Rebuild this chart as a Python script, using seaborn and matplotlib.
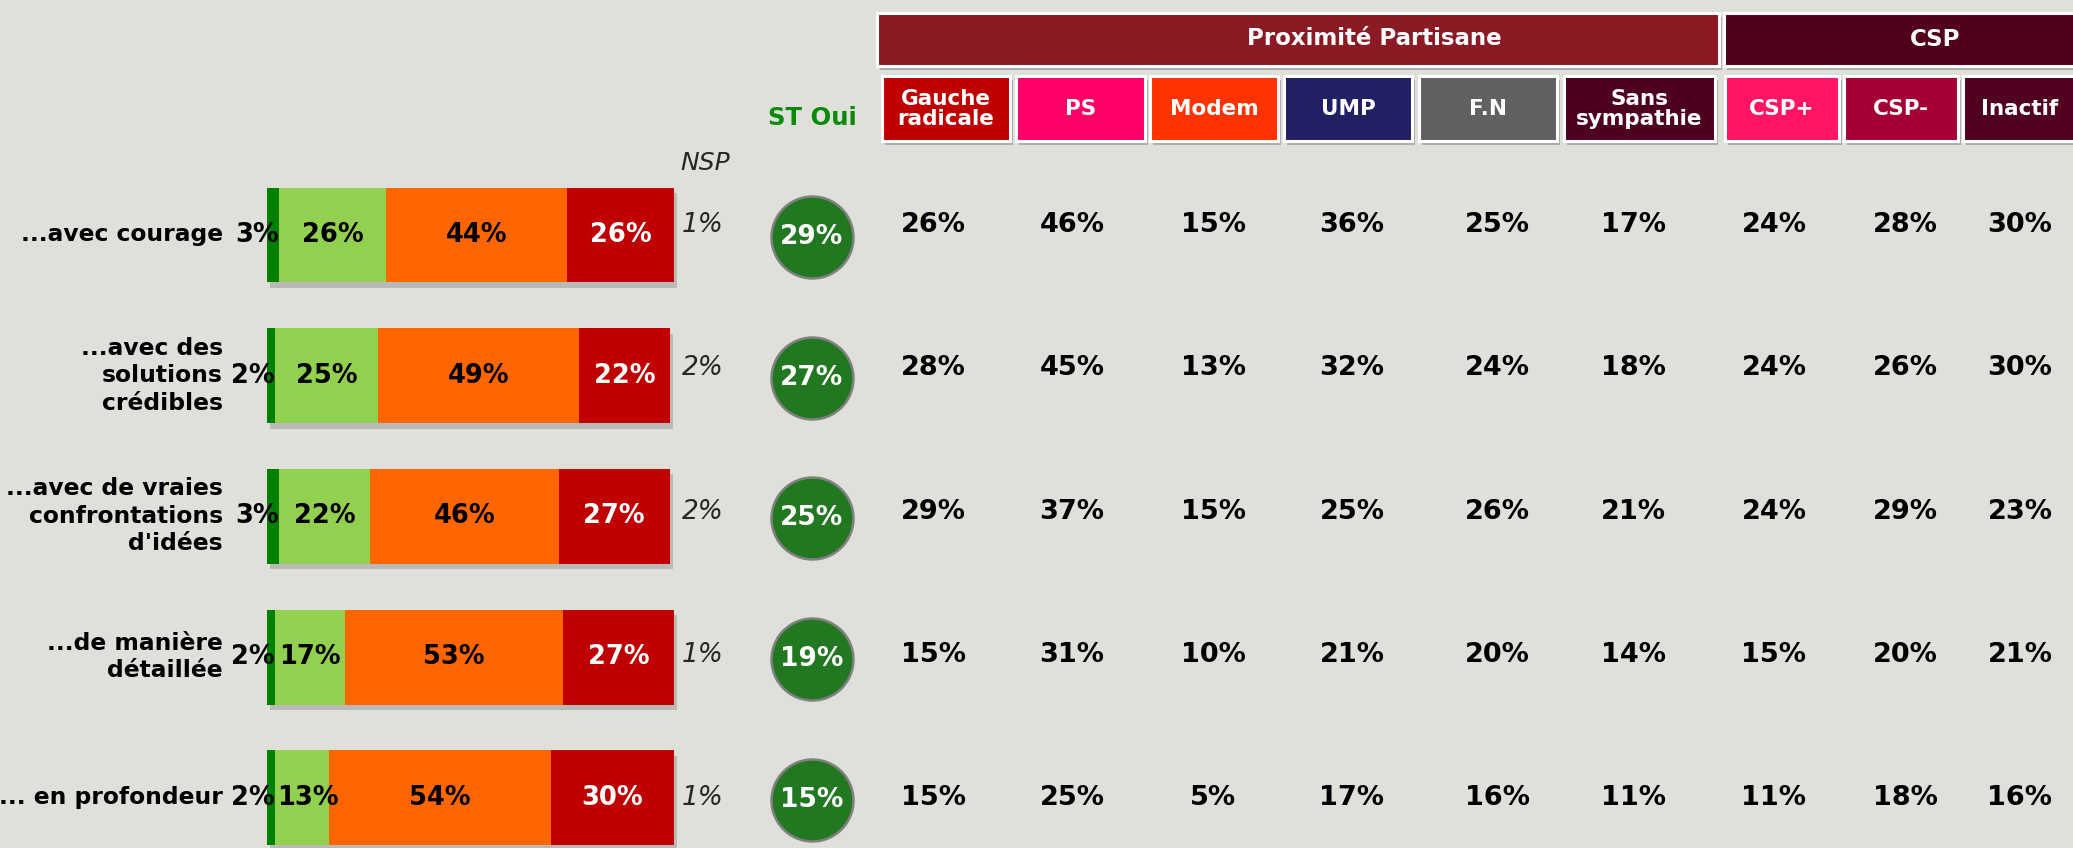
import numpy as np
import pandas as pd
import matplotlib
matplotlib.use("Agg")
import matplotlib.pyplot as plt
import matplotlib.patches as mpatches
import matplotlib.patheffects as pe
import seaborn as sns

# Data
categories = ["...avec courage",
              "...avec des\nsolutions\ncrédibles",
              "...avec de vraies\nconfrontations\nd'idées",
              "...de manière\ndétaillée",
              "... en profondeur"]
tres_bien = [3, 2, 3, 2, 2]
plutot_bien = [26, 25, 22, 17, 13]
plutot_mal = [44, 49, 46, 53, 54]
tres_mal = [26, 22, 27, 27, 30]
nsp = [1, 2, 2, 1, 1]
st_oui = [29, 27, 25, 19, 15]

col_labels = ["Gauche\nradicale", "PS", "Modem", "UMP", "F.N",
              "Sans\nsympathie", "CSP+", "CSP-", "Inactif"]
gauche_radicale = [26, 28, 29, 15, 15]
ps = [46, 45, 37, 31, 25]
modem = [15, 13, 15, 10, 5]
ump = [36, 32, 25, 21, 17]
fn = [25, 24, 26, 20, 16]
sans_sympathie = [17, 18, 21, 14, 11]
csp_plus = [24, 24, 24, 15, 11]
csp_moins = [28, 26, 29, 20, 18]
inactif = [30, 30, 23, 21, 16]
group_labels = ["Proximité Partisane", "CSP"]

# Style
BG = "#DFE0DA"
SEG_COLORS = ["#008000", "#92D050", "#FF6600", "#C00000"]
SEG_TEXT = ["black", "black", "black", "white"]
COL_COLORS = ["#C00000", "#FF0066", "#FF3300", "#222064", "#616161",
              "#4F0020", "#FF1466", "#A50036", "#520020"]
GROUP_COLORS = ["#8B1A25", "#520019"]

# Layout (pixels of the 2073x848 canvas)
W, H = 2073, 848
BAR_X0, PX_PCT = 267, 4.11
ROW0, ROW_STEP = 235, 140.7
VAL_ROW0, VAL_STEP = 225, 143.3
COL_X = [933, 1072, 1213, 1352, 1497, 1633, 1774, 1905, 2020]
COL_BOX = [(882, 1010), (1016, 1145), (1150, 1278), (1284, 1412), (1419, 1557),
           (1564, 1715), (1725, 1839), (1844, 1958), (1963, 2085)]
GROUP_BOX = [(877, 1719), (1724, 2085)]
NSP_X, ST_X = 703, 812


def ux(px):
    return (px - BAR_X0) / PX_PCT


def uy(py):
    return (py - ROW0) / ROW_STEP


def box(ax, x0, x1, y0, y1, color):
    rect = mpatches.Rectangle((ux(x0), uy(y0)), (x1 - x0) / PX_PCT, (y1 - y0) / ROW_STEP,
                              facecolor=color, edgecolor="white", linewidth=2.2)
    rect.set_path_effects([pe.SimplePatchShadow(offset=(2, -3), shadow_rgbFace="#8a8a8a", alpha=0.6),
                           pe.Normal()])
    ax.add_patch(rect)


sns.set_style("white")
plt.rcParams["font.family"] = ["DejaVu Sans"]

fig = plt.figure(figsize=(W / 100, H / 100), dpi=100)
fig.patch.set_facecolor(BG)
ax = fig.add_axes([0, 0, 1, 1])
ax.set_facecolor(BG)

segments = [tres_bien, plutot_bien, plutot_mal, tres_mal]
cum = np.cumsum(segments, axis=0)
rows = np.arange(len(categories))

# stacked bars: draw cumulative totals from the largest down
for k in reversed(range(len(segments))):
    n0 = len(ax.patches)
    df = pd.DataFrame({"cat": categories, "val": cum[k]})
    sns.barplot(data=df, x="val", y="cat", orient="h", color=SEG_COLORS[k],
                saturation=1, width=0.675, errorbar=None, linewidth=0, ax=ax)
    if k == len(segments) - 1:
        for p in ax.patches[n0:]:
            p.set_path_effects([pe.SimplePatchShadow(offset=(2, -4), shadow_rgbFace="#808080", alpha=0.4),
                                pe.Normal()])

# segment labels
for i in rows:
    ax.text(tres_bien[i] - 0.2, i, f"{tres_bien[i]}%", ha="right", va="center",
            fontsize=18.5, fontweight="bold", color=SEG_TEXT[0])
    for k in range(1, len(segments)):
        mid = cum[k][i] - segments[k][i] / 2
        if k == 1:
            mid = max(mid, tres_bien[i] + 8.0)
        ax.text(mid, i, f"{segments[k][i]}%", ha="center", va="center",
                fontsize=18.5, fontweight="bold", color=SEG_TEXT[k])
    ax.text(ux(223), i, categories[i], ha="right", va="center", fontsize=16.8,
            fontweight="bold", color="black", linespacing=1.25)

# NSP column
ax.text(ux(705), uy(163), "NSP", ha="center", va="center", fontsize=18, style="italic")
for i in rows:
    ax.text(ux(NSP_X), uy(VAL_ROW0 + i * VAL_STEP), f"{nsp[i]}%", ha="center", va="center",
            fontsize=19, style="italic")

# ST Oui circles
ax.text(ux(ST_X), uy(118), "ST Oui", ha="center", va="center", fontsize=17.5,
        fontweight="bold", color="#0A8A0A")
sns.scatterplot(x=np.full(len(rows), ux(ST_X)), y=rows + 2 / ROW_STEP, s=59 ** 2,
                color="#217821", edgecolor="#808080", linewidth=1.8, legend=False, ax=ax)
for i in rows:
    ax.text(ux(ST_X), i + 2 / ROW_STEP, f"{st_oui[i]}%", ha="center", va="center",
            fontsize=19, fontweight="bold", color="white")

# header boxes
box(ax, *GROUP_BOX[0], 13, 66, GROUP_COLORS[0])
box(ax, *GROUP_BOX[1], 13, 66, GROUP_COLORS[1])
ax.text(ux(1374), uy(39), group_labels[0], ha="center", va="center", fontsize=16.5,
        fontweight="bold", color="white")
ax.text(ux(1935), uy(40), group_labels[1], ha="center", va="center", fontsize=16.5,
        fontweight="bold", color="white")
for j, (x0, x1) in enumerate(COL_BOX):
    box(ax, x0, x1, 76, 141, COL_COLORS[j])
    cx = (x0 + min(x1, 2073)) / 2 if j < len(COL_BOX) - 1 else COL_X[j]
    ax.text(ux(cx), uy(109), col_labels[j], ha="center", va="center", fontsize=15.5,
            fontweight="bold", color="white", linespacing=1.05)

# column values
columns = [gauche_radicale, ps, modem, ump, fn, sans_sympathie, csp_plus, csp_moins, inactif]
for j, col in enumerate(columns):
    for i in rows:
        ax.text(ux(COL_X[j]), uy(VAL_ROW0 + i * VAL_STEP), f"{col[i]}%", ha="center",
                va="center", fontsize=19.5, fontweight="bold", color="black")

ax.set_xlim(ux(0), ux(W))
ax.set_ylim(uy(H), uy(0))
ax.axis("off")

fig.savefig("out.png", dpi=100, facecolor=BG)
